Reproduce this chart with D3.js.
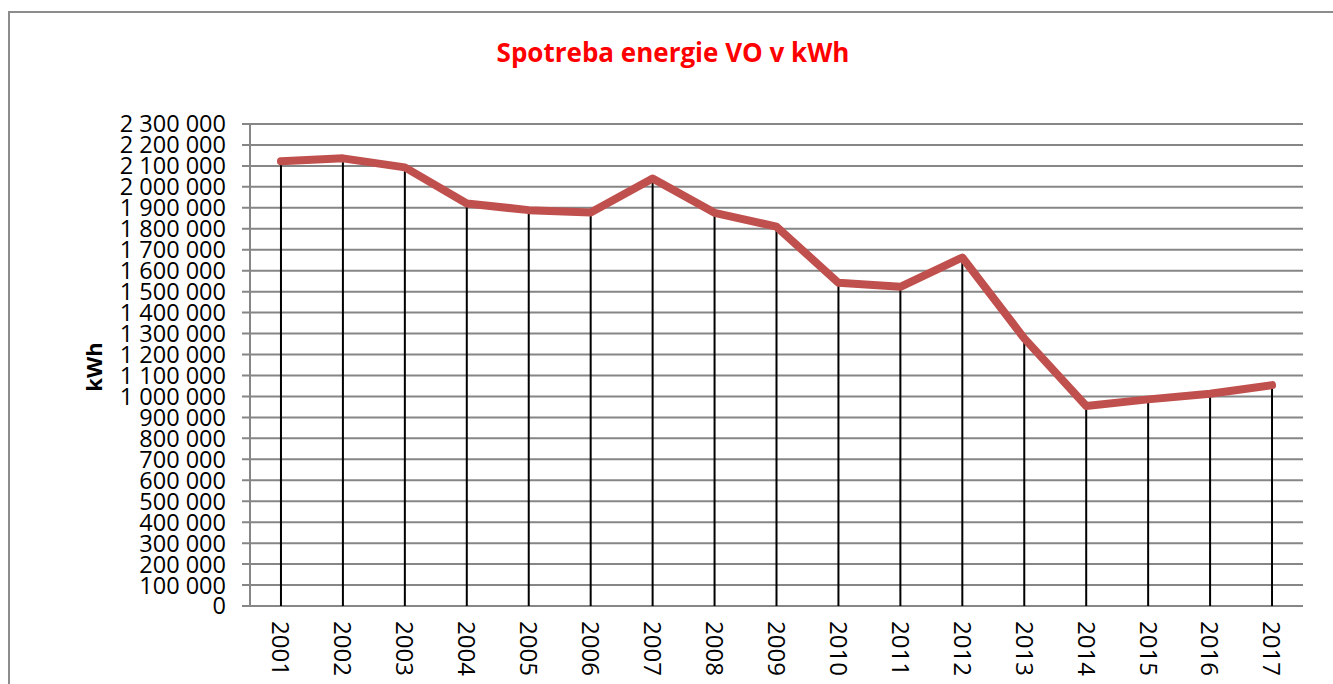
<!DOCTYPE html>
<html>
<head>
<meta charset="utf-8">
<script src="https://cdn.jsdelivr.net/npm/d3@7"></script>
<style>
  body { margin: 0; background: #fff; }
  text { font-family: "Open Sans", "Liberation Sans", sans-serif; }
</style>
</head>
<body>
<div id="chart"></div>
<script>
// Spotreba energie VO - line chart with drop lines

var years = ["2001", "2002", "2003", "2004", "2005", "2006", "2007", "2008", "2009",
             "2010", "2011", "2012", "2013", "2014", "2015", "2016", "2017"];
var kwh = [2122000, 2136000, 2093000, 1921000, 1889000, 1878000, 2040000, 1876000, 1810000,
           1542000, 1523000, 1663000, 1277000, 954000, 986000, 1013000, 1054000];
var yTicks = d3.range(0, 2300001, 100000);

var width = 1333, height = 684;
var margin = {left: 250, right: 30, top: 124, bottom: 78};

var svg = d3.select("#chart").append("svg")
    .attr("width", width)
    .attr("height", height);

// outer chart border
svg.append("rect")
    .attr("x", 9).attr("y", 12)
    .attr("width", 1360).attr("height", 720)
    .attr("fill", "none")
    .attr("stroke", "#8c8c8c")
    .attr("stroke-width", 2);

// title
svg.append("text")
    .attr("x", 673).attr("y", 62)
    .attr("text-anchor", "middle")
    .style("font-size", "26px")
    .style("font-weight", "bold")
    .style("fill", "#ff0000")
    .text("Spotreba energie VO v kWh");

var x = d3.scaleBand()
    .domain(years)
    .range([margin.left, width - margin.right]);

var y = d3.scaleLinear()
    .domain([0, 2300000])
    .range([height - margin.bottom, margin.top]);

var fmt = function(d) { return d3.format(",")(d).replace(/,/g, " "); };

// gridlines
svg.append("g").selectAll("line")
    .data(yTicks)
    .enter().append("line")
    .attr("x1", margin.left - 8)
    .attr("x2", width - margin.right)
    .attr("y1", function(d) { return y(d); })
    .attr("y2", function(d) { return y(d); })
    .attr("stroke", "#868686")
    .attr("stroke-width", 2);

// y axis line
svg.append("line")
    .attr("x1", margin.left).attr("x2", margin.left)
    .attr("y1", y(2300000)).attr("y2", y(0))
    .attr("stroke", "#868686")
    .attr("stroke-width", 2);

// y tick labels
svg.append("g").selectAll("text")
    .data(yTicks)
    .enter().append("text")
    .attr("x", margin.left - 24)
    .attr("y", function(d) { return y(d); })
    .attr("dy", "0.36em")
    .attr("text-anchor", "end")
    .style("font-size", "23.5px")
    .style("fill", "#000")
    .text(fmt);

// axis title
svg.append("text")
    .attr("transform", "translate(102," + 367 + ") rotate(-90)")
    .attr("text-anchor", "middle")
    .style("font-size", "22px")
    .style("font-weight", "bold")
    .text("kWh");

// x labels (rotated)
svg.append("g").selectAll("text")
    .data(years)
    .enter().append("text")
    .attr("transform", function(d) {
        return "translate(" + (x(d) + x.bandwidth() / 2) + "," + 621 + ") rotate(90)";
    })
    .attr("dy", "0.36em")
    .attr("text-anchor", "start")
    .style("font-size", "24px")
    .text(function(d) { return d; });

// drop lines
svg.append("g").selectAll("line")
    .data(years)
    .enter().append("line")
    .attr("x1", function(d) { return x(d) + x.bandwidth() / 2; })
    .attr("x2", function(d) { return x(d) + x.bandwidth() / 2; })
    .attr("y1", y(0))
    .attr("y2", function(d, i) { return y(kwh[i]); })
    .attr("stroke", "#000")
    .attr("stroke-width", 2);

// the line
var line = d3.line()
    .x(function(d, i) { return x(years[i]) + x.bandwidth() / 2; })
    .y(function(d) { return y(d); });

svg.append("path")
    .datum(kwh)
    .attr("d", line)
    .attr("fill", "none")
    .attr("stroke", "#c0504d")
    .attr("stroke-width", 8)
    .attr("stroke-linejoin", "round")
    .attr("stroke-linecap", "round");
</script>
</body>
</html>
